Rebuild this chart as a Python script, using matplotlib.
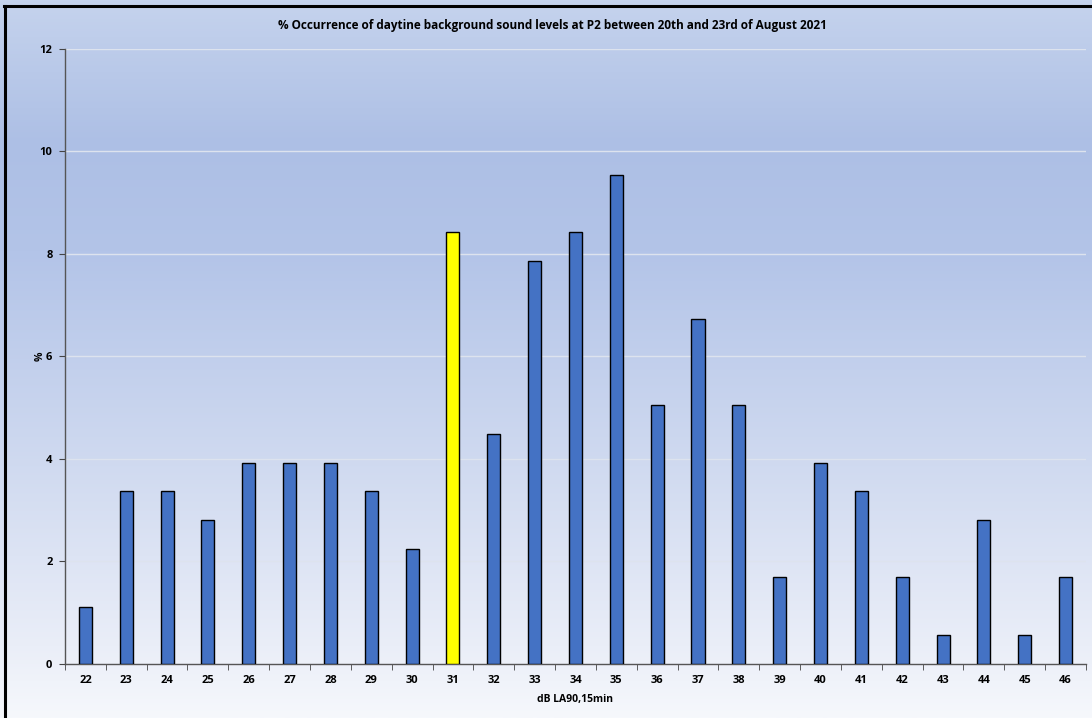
#!/usr/bin/env python3

import numpy as np
import matplotlib
matplotlib.use("Agg")
import matplotlib.pyplot as plt
from matplotlib.lines import Line2D
import matplotlib.ticker as mticker

levels = [22, 23, 24, 25, 26, 27, 28, 29, 30, 31, 32, 33, 34, 35, 36, 37, 38, 39, 40, 41, 42, 43, 44, 45, 46]
occurrence = [1.12, 3.37, 3.37, 2.81, 3.93, 3.93, 3.93, 3.37, 2.25, 8.43, 4.49, 7.87, 8.43, 9.55, 5.06,
              6.74, 5.06, 1.69, 3.93, 3.37, 1.69, 0.56, 2.81, 0.56, 1.69]
highlight_level = 31
yticks = [0, 2, 4, 6, 8, 10, 12]

plt.rcParams["font.family"] = ["Open Sans", "DejaVu Sans"]

fig = plt.figure(figsize=(10.92, 7.18), dpi=100)

# background gradient (top -> bottom)
bg = fig.add_axes([0, 0, 1, 1], zorder=-10)
stops = np.array([0.0, 0.2, 0.35, 0.65, 0.9, 1.0])
cols = np.array([[197, 211, 237], [173, 191, 229], [179, 196, 232],
                 [208, 218, 240], [234, 238, 248], [246, 248, 252]]) / 255
t = np.linspace(0, 1, 400)
grad = np.stack([np.interp(t, stops, cols[:, i]) for i in range(3)], axis=-1)
bg.imshow(grad[:, None, :], aspect="auto", extent=[0, 1, 0, 1])
bg.set_axis_off()

# frame (only left/top fall inside the picture)
fig.add_artist(Line2D([0.005, 0.005], [0, 0.992], transform=fig.transFigure, color="black", lw=2.2))
fig.add_artist(Line2D([0.004, 1], [0.992, 0.992], transform=fig.transFigure, color="black", lw=2.2))

ax = fig.add_axes([0.0595, 0.0752, 0.9350, 0.8566])
ax.patch.set_alpha(0)

x = np.arange(len(levels))
colors = ["#ffff00" if lv == highlight_level else "#4472c4" for lv in levels]
ax.bar(x, occurrence, width=0.32, color=colors, edgecolor="black", linewidth=1.0, zorder=3)

ax.set_xlim(-0.5, len(levels) - 0.5)
ax.set_ylim(0, 12)
ax.set_yticks(yticks)
ax.set_xticks(x)
ax.set_xticklabels([str(lv) for lv in levels])
ax.xaxis.set_minor_locator(mticker.FixedLocator(np.arange(len(levels) + 1) - 0.5))
ax.tick_params(axis="x", which="major", length=0, pad=8, labelsize=8)
ax.tick_params(axis="x", which="minor", length=4, color="#444444", direction="out")
ax.tick_params(axis="y", length=4, color="#444444", labelsize=8, pad=5)
for lab in ax.get_xticklabels() + ax.get_yticklabels():
    lab.set_fontweight("bold")

ax.grid(axis="y", color="#dde3ee", linewidth=1.0, zorder=0)
ax.set_axisbelow(True)
for side in ["top", "right"]:
    ax.spines[side].set_visible(False)
for side in ["left", "bottom"]:
    ax.spines[side].set_color("#555555")
    ax.spines[side].set_linewidth(1.0)

ax.set_xlabel("dB LA90,15min", fontsize=7.5, fontweight="bold", labelpad=6)
ax.set_ylabel("%", fontsize=7.5, fontweight="bold")
ax.yaxis.set_label_coords(-0.0186, 0.5)
fig.text(0.506, 0.964, "% Occurrence of daytine background sound levels at P2 between 20th and 23rd of August 2021",
         ha="center", va="center", fontsize=8.5, fontweight="bold")

fig.savefig("out.png", dpi=100)
